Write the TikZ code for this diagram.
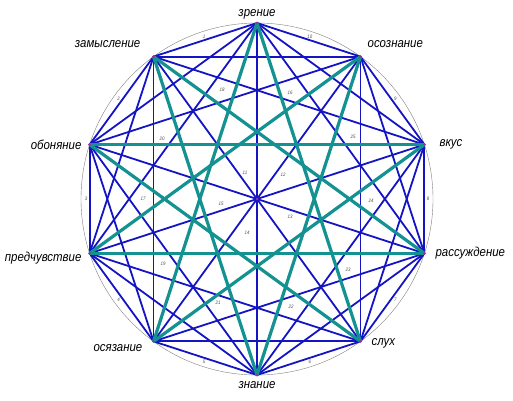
\documentclass[tikz,border=0pt]{standalone}
\usepackage{fontspec}
\setmainfont{Liberation Sans}[FakeStretch=0.88]
\definecolor{chordblue}{RGB}{20,20,195}
\definecolor{starteal}{RGB}{20,145,145}
\tikzset{
  chordline/.style={chordblue, line width=1.8pt},
  starline/.style={starteal, line width=3.2pt},
  vlabel/.style={font=\fontsize{13}{15}\selectfont\itshape, inner sep=1pt},
  numlbl/.style={font=\fontsize{5}{6}\selectfont\itshape, text=black!70, inner sep=0pt}
}
\begin{document}
\begin{tikzpicture}[x=1pt,y=1pt]
\useasboundingbox (0,0) rectangle (513,400);
\coordinate (O) at (257,201);
\draw [gray, line width=0.4pt] (O) circle (176);

% vertices, clockwise from the top
\foreach \i in {0,...,9}
  \path (O) ++(90-36*\i:176) coordinate (p\i);

% steps 1, 2, 3 and the diameters
\foreach \i in {0,...,9} {
  \foreach \s in {1,2,3} {
    \pgfmathtruncatemacro{\j}{mod(\i+\s,10)}
    \draw [chordline] (p\i) -- (p\j);
  }
}
\foreach \i in {0,...,4} {
  \pgfmathtruncatemacro{\j}{\i+5}
  \draw [chordline] (p\i) -- (p\j);
}

% step 4
\foreach \i in {0,...,9} {
  \pgfmathtruncatemacro{\j}{mod(\i+4,10)}
  \draw [starline] (p\i) -- (p\j);
}

\foreach \i in {0,...,9}
  \fill [violet!80] (p\i) circle (1.5);
\fill [violet!80] (O) circle (1.5);

\node [vlabel, anchor=south] (zrenie) at ([yshift=3pt]p0) {зрение};
\node [vlabel, anchor=west] (osoznanie) at ([xshift=6pt,yshift=13pt]p1) {осознание};
\node [vlabel, anchor=west] (vkus) at ([xshift=14pt]p2) {вкус};
\node [vlabel, anchor=west] (rassuzhdenie) at ([xshift=10pt]p3) {рассуждение};
\node [vlabel, anchor=west] (slukh) at ([xshift=10pt,yshift=-2pt]p4) {слух};
\node [vlabel, anchor=north] (znanie) at ([yshift=-5pt]p5) {знание};
\node [vlabel, anchor=east] (osyazanie) at ([xshift=-10pt,yshift=-7pt]p6) {осязание};
\node [vlabel, anchor=east] (predchuvstvie) at ([xshift=-7pt,yshift=-5pt]p7) {предчувствие};
\node [vlabel, anchor=east] (obonyanie) at ([xshift=-7pt]p8) {обоняние};
\node [vlabel, anchor=east] (zamyslenie) at ([xshift=-12pt,yshift=13pt]p9) {замысление};

% arc numbers
\foreach \k in {1,...,10}
  \path (O) ++(72+36*\k:171) node [numlbl] (a\k) {\k};

% inner numbers
\foreach \n/\x/\y in {11/245/173, 12/283/175, 13/290/217, 14/247/233, 15/221/204,
    16/290/93, 17/143/199, 18/222/90, 19/163/264, 20/162/139,
    21/218/303, 22/291/307, 23/348/270, 24/371/201, 25/353/137}
  \node [numlbl] (n\n) at (\x,400-\y) {\n};
\end{tikzpicture}
\end{document}
